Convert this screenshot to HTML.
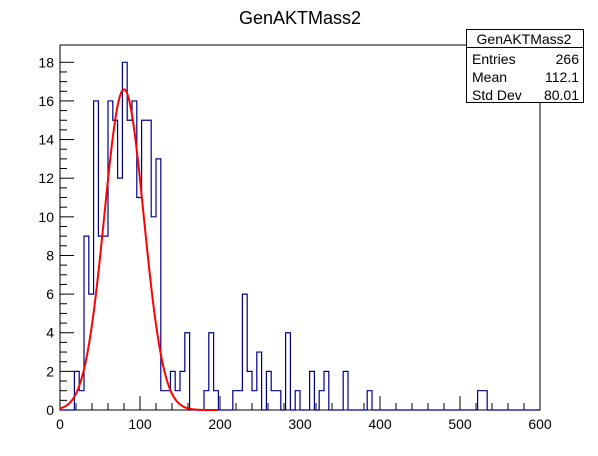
<!DOCTYPE html>
<html><head><meta charset="utf-8"><style>
body{margin:0;background:#fff;}
svg{font-family:"Liberation Sans",sans-serif;display:block}
</style></head><body>
<svg id="c" width="598" height="456" viewBox="0 0 598 456">
<rect width="598" height="456" fill="#fff"/>
<text x="300" y="24" font-size="18" text-anchor="middle">GenAKTMass2</text>
<rect x="60" y="45" width="480" height="365" fill="none" stroke="#000" stroke-width="1"/>
<g id="axes"></g>
<path id="hist" fill="none" stroke="#00008b" stroke-width="1.2"/>
<path id="fit" fill="none" stroke="#ff0000" stroke-width="2"/>
<g>
<rect x="466.5" y="29.5" width="117" height="73" fill="#fff" stroke="#000"/>
<line x1="466" y1="47.5" x2="584" y2="47.5" stroke="#000"/>
<text x="524" y="44" font-size="14" text-anchor="middle">GenAKTMass2</text>
<text x="472" y="64" font-size="14">Entries</text><text x="579" y="64" font-size="14" text-anchor="end">266</text>
<text x="472" y="82" font-size="14">Mean</text><text x="579" y="82" font-size="14" text-anchor="end">112.1</text>
<text x="472" y="100" font-size="14">Std Dev</text><text x="579" y="100" font-size="14" text-anchor="end">80.01</text>
</g>
</svg>
<script>
const binWidth = 6;
const counts = [0,0,0,2,1,9,6,16,9,9,16,15,12,18,15,16,11,15,15,10,13,1,1,2,1,2,4,0,0,0,1,4,1,0,0,0,1,1,6,2,1,3,0,2,1,1,0,4,0,1,0,0,2,0,1,2,0,0,0,2,0,0,0,0,1,0,0,0,0,0,0,0,0,0,0,0,0,0,0,0,0,0,0,0,0,0,0,1,1,0,0,0,0,0,0,0,0,0,0,0];
const fitParams = [16.6, 80, 24.6];
const xTicks = [0,100,200,300,400,500,600];
const yTicks = [0,2,4,6,8,10,12,14,16,18];
const X0=60,X1=540,Y0=410,Ytop=62.3;
const sx=v=>X0+(v/600)*(X1-X0);
const sy=v=>Y0-(v/18)*(Y0-Ytop);
const NS='http://www.w3.org/2000/svg';
const ax=document.getElementById('axes');
function line(x1,y1,x2,y2){const l=document.createElementNS(NS,'line');l.setAttribute('x1',x1);l.setAttribute('y1',y1);l.setAttribute('x2',x2);l.setAttribute('y2',y2);l.setAttribute('stroke','#000');ax.appendChild(l);return l;}
function text(x,y,s,anc){const t=document.createElementNS(NS,'text');t.setAttribute('x',x);t.setAttribute('y',y);t.setAttribute('font-size','14');t.setAttribute('text-anchor',anc);t.textContent=s;ax.appendChild(t);return t;}
for(let v=0;v<=600;v+=20){const big=v%100===0;line(sx(v),Y0,sx(v),Y0-(big?14:7));}
xTicks.forEach(v=>{const t=text(sx(v),429,String(v),'middle');

});
for(let v=0;v<=18.01;v+=0.5){const big=Math.abs(v%2)<1e-6;line(X0,sy(v),X0+(big?14:7),sy(v));}
yTicks.forEach(v=>{const t=text(54,sy(v)+5,String(v),'end');

});
let d='M'+sx(0)+','+sy(0);
counts.forEach((c,i)=>{d+=' L'+sx(i*binWidth)+','+sy(c)+' L'+sx((i+1)*binWidth)+','+sy(c);});
d+=' L'+sx(600)+','+sy(0);
document.getElementById('hist').setAttribute('d',d);
let f='';
for(let v=0;v<=197;v+=1){const y=fitParams[0]*Math.exp(-Math.pow(v-fitParams[1],2)/(2*fitParams[2]*fitParams[2]));f+=(v?' L':'M')+sx(v)+','+sy(y);}
document.getElementById('fit').setAttribute('d',f);
</script>
</body></html>
